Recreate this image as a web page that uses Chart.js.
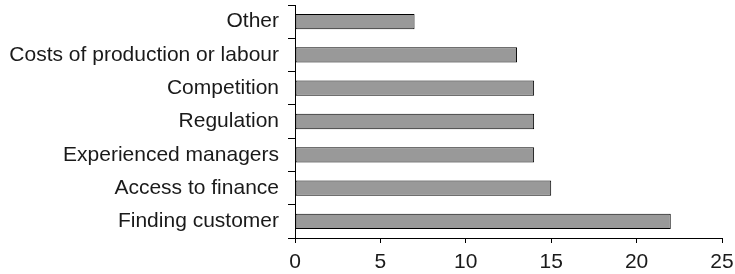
<!DOCTYPE html>
<html>
<head>
<meta charset="utf-8">
<script src="https://cdn.jsdelivr.net/npm/chart.js@4/dist/chart.umd.min.js"></script>
<style>
  html, body { margin: 0; padding: 0; background: #fff; }
  #wrap { width: 735px; height: 274px; position: relative; }
</style>
</head>
<body>
<div id="wrap"><canvas id="bars"></canvas></div>
<script>
// Data
const categories = ['Other', 'Costs of production or labour', 'Competition', 'Regulation',
  'Experienced managers', 'Access to finance', 'Finding customer'];
const values = [7, 13, 14, 14, 14, 15, 22];
const xTicks = [0, 5, 10, 15, 20, 25];

const labelFont = { family: 'Liberation Sans, Arial', size: 21 };

const ctx = document.getElementById('bars').getContext('2d');
new Chart(ctx, {
  type: 'bar',
  data: {
    labels: categories,
    datasets: [{
      data: values,
      backgroundColor: '#999999',
      borderColor: '#000000',
      borderWidth: 1,
      borderSkipped: false,
      categoryPercentage: 1,
      barPercentage: 0.46
    }]
  },
  options: {
    indexAxis: 'y',
    responsive: true,
    maintainAspectRatio: false,
    animation: false,
    layout: { padding: { top: 5, right: 13 } },
    plugins: { legend: { display: false }, tooltip: { enabled: false } },
    scales: {
      x: {
        min: xTicks[0],
        max: xTicks[xTicks.length - 1],
        afterBuildTicks: (scale) => { scale.ticks = xTicks.map(v => ({ value: v })); },
        afterFit: (scale) => { scale.height = 36; scale.paddingLeft = 0; scale.paddingRight = 0; },
        border: { display: true, color: '#000', width: 1 },
        grid: { drawOnChartArea: false, color: '#000', tickLength: 5 },
        ticks: { color: '#1a1a1a', padding: 7, font: labelFont }
      },
      y: {
        afterFit: (scale) => { scale.width = 295; scale.paddingTop = 0; scale.paddingBottom = 0; },
        border: { display: true, color: '#000', width: 1 },
        grid: { drawOnChartArea: false, color: '#000', tickLength: 7, offset: true },
        ticks: { color: '#1a1a1a', padding: 9, font: labelFont }
      }
    }
  }
});
</script>
</body>
</html>
